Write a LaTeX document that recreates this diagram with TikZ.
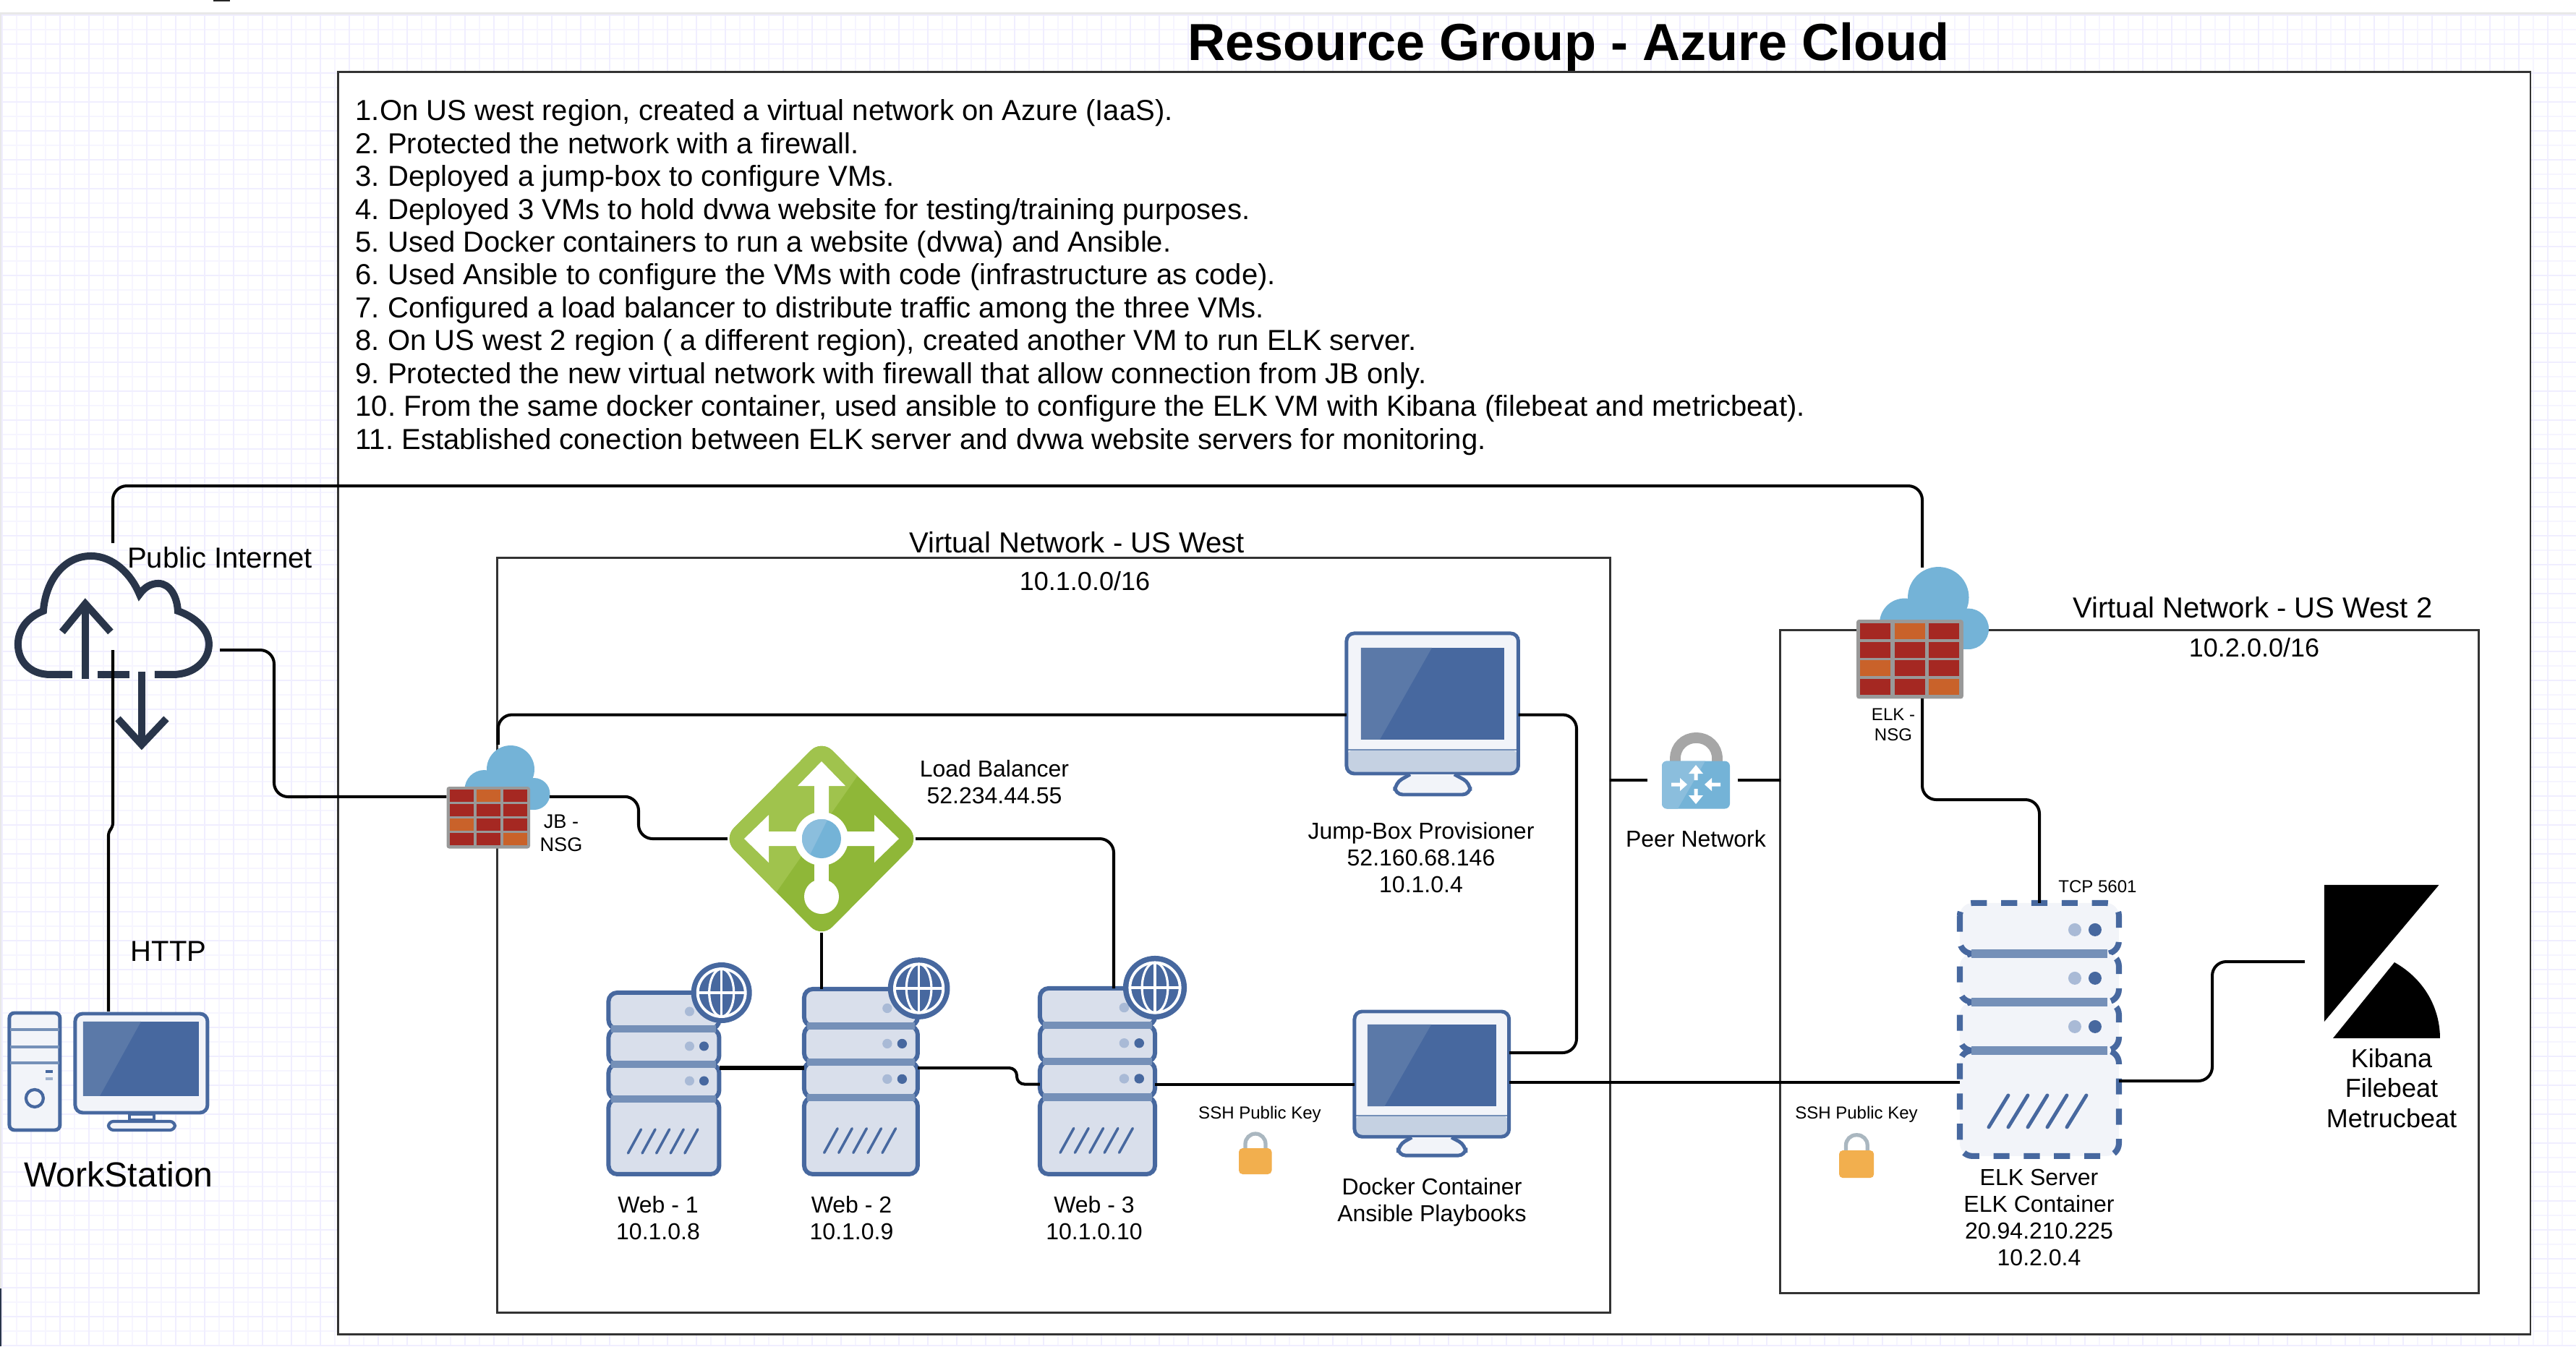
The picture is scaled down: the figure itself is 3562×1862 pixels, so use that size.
\documentclass[tikz,border=0pt]{standalone}
\usepackage{fontspec}
\setmainfont{Liberation Sans}
\definecolor{gridminor}{HTML}{F6F5FF}
\definecolor{gridmajor}{HTML}{F0EEFF}
\definecolor{iconblue}{HTML}{47689F}
\definecolor{iconlight}{HTML}{5B79A8}
\definecolor{iconbar}{HTML}{7590B8}
\definecolor{iconfill}{HTML}{D9DFEB}
\definecolor{iconpale}{HTML}{F2F4F9}
\definecolor{iconchin}{HTML}{C5D1E2}
\definecolor{icondot}{HTML}{A9BAD6}
\definecolor{cloudblue}{HTML}{74B3D7}
\definecolor{cloudpale}{HTML}{8BBEDD}
\definecolor{brickred}{HTML}{A52822}
\definecolor{brickorange}{HTML}{C9622A}
\definecolor{lbgreen}{HTML}{8FB738}
\definecolor{lbpale}{HTML}{A0C34D}
\definecolor{lockbody}{HTML}{F2AF4E}
\definecolor{lockbar}{HTML}{AAB7C0}
\definecolor{netdark}{HTML}{29354A}
\definecolor{zoneline}{HTML}{333333}
\begin{document}
\begin{tikzpicture}[x=0.01cm,y=-0.01cm]

\tikzstyle{port}=[inner sep=0pt,outer sep=0pt]
\tikzstyle{zone}=[inner sep=0pt,outer sep=0pt,draw=zoneline,line width=0.8pt]
\tikzstyle{wire}=[draw=black,line width=1.15pt,rounded corners=5.5pt]
\tikzstyle{lblmain}=[inner sep=0pt,align=center,font=\fontsize{9.1}{10.53}\selectfont]
\tikzstyle{lblbig}=[inner sep=0pt,align=center,font=\fontsize{11.38}{12.92}\selectfont\frenchspacing]
\tikzstyle{lblnet}=[inner sep=0pt,align=center,font=\fontsize{10.24}{11.7}\selectfont]
\tikzstyle{lblsmall}=[inner sep=0pt,align=center,font=\fontsize{6.83}{7.97}\selectfont]
\tikzstyle{slash}=[draw=iconblue,line width=1pt,line cap=round]

\tikzset{
serverpic/.pic={
  \foreach \sa/\sb in {0/50,50/99,99/147,147/251}
    \draw[draw=iconblue,fill=iconfill,line width=1.7pt,rounded corners=3.4pt] (0,\sa) rectangle (153,\sb);
  \foreach \sa in {50,99,147}
    \fill[iconbar] (4,\sa-5) rectangle (149,\sa+5);
  \foreach \sa in {26,74,122} {
    \fill[icondot] (112,\sa) circle (6.5);
    \fill[iconblue] (132,\sa) circle (6.5);
  }
  \foreach \sa in {0,1,2,3,4}
    \draw[slash] (27+\sa*19.6,222) -- (45+\sa*19.6,189);
},
globepic/.pic={
  \fill[iconblue] (0,0) circle (42);
  \draw[white,line width=1.1pt] (0,0) circle (33);
  \draw[white,line width=0.9pt] (0,0) ellipse (17 and 33);
  \draw[white,line width=0.9pt] (0,-33) -- (0,33);
  \draw[white,line width=0.9pt] (-33,0) -- (33,0);
},
elkserverpic/.pic={
  \foreach \sa/\sb in {0/70,70/137,137/204,204/350}
    \draw[fill=iconpale,draw=iconblue,line width=2.3pt,rounded corners=5pt,dash pattern=on 6.3pt off 5.6pt] (0,\sa) rectangle (220,\sb);
  \foreach \sa in {70,137,204}
    \fill[iconbar] (16,\sa-6) rectangle (204,\sa+6);
  \foreach \sa in {37,104,171} {
    \fill[icondot] (159,\sa) circle (9);
    \fill[iconblue] (187,\sa) circle (9);
  }
  \foreach \sa in {0,1,2,3,4}
    \draw[draw=iconblue,line width=1.4pt,line cap=round] (40+\sa*27,310) -- (67+\sa*27,266);
},
monitorpic/.pic={
  \fill[iconpale,rounded corners=3pt] (0,0) rectangle (237.5,194);
  \fill[iconchin,rounded corners=3pt] (0,161) rectangle (237.5,194);
  \draw[iconbar,line width=0.6pt] (2,161) -- (235,161);
  \fill[iconblue] (20,20) rectangle (218,147);
  \fill[iconlight] (20,20) -- (118,20) -- (46,147) -- (20,147) -- cycle;
  \draw[iconblue,line width=1.4pt,rounded corners=3pt] (0,0) rectangle (237.5,194);
  \draw[draw=iconblue,fill=iconpale,line width=1.4pt,rounded corners=3pt] (88,195) -- (67,207) -- (67,223) -- (171,223) -- (171,207) -- (149,195);
},
towerpic/.pic={
  \draw[draw=iconblue,fill=iconpale,line width=1.4pt,rounded corners=2pt] (2,2) rectangle (72,164);
  \foreach \sa in {25,49,71}
    \draw[iconbar,line width=1.2pt] (3,\sa) -- (71,\sa);
  \fill[iconblue] (52,81) rectangle (62,85);
  \fill[iconbar!70] (52,91) rectangle (62,95);
  \draw[iconblue,line width=1.2pt] (37,120) circle (12);
  \draw[draw=iconblue,fill=iconpale,line width=1.4pt,rounded corners=3pt] (93,3) rectangle (276,140);
  \fill[iconblue] (104,14) rectangle (264,117);
  \fill[iconlight] (104,14) -- (184,14) -- (127,117) -- (104,117) -- cycle;
  \draw[draw=iconblue,fill=iconpale,line width=1.2pt] (168,142) rectangle (202,150);
  \draw[draw=iconblue,fill=iconpale,line width=1.2pt,rounded corners=2pt] (139,152) rectangle (231,164);
},
firewallpic/.pic={
  \fill[cloudblue] (88.5,-24) circle (33);
  \fill[cloudblue] (52,4) circle (27);
  \fill[cloudblue] (121,10) circle (22);
  \fill[cloudblue] (52,-6) rectangle (121,32);
  \fill[black!40,rounded corners=1pt] (0,0) rectangle (115.5,85.5);
  \foreach \bx/\by/\bc in {0/0/brickred,1/0/brickorange,2/0/brickred,0/1/brickred,1/1/brickred,2/1/brickred,0/2/brickorange,1/2/brickred,2/2/brickred,0/3/brickred,1/3/brickred,2/3/brickorange}
    \fill[\bc] (4+\bx*37,4+\by*20) rectangle ++(33,17);
},
lbpic/.pic={
  \begin{scope}
    \clip[rounded corners=6pt] (-136,0) -- (0,-137) -- (136,0) -- (0,137) -- cycle;
    \fill[lbgreen] (-150,-150) rectangle (150,150);
    \fill[lbpale] (90,-145) -- (-100,128) -- (-200,128) -- (-200,-145) -- cycle;
  \end{scope}
  \fill[white] (-10,0) -- (-10,-73) -- (-33,-73) -- (0,-107) -- (33,-73) -- (10,-73) -- (10,0) -- cycle;
  \fill[white] (0,-10) -- (-73,-10) -- (-73,-33) -- (-107,0) -- (-73,33) -- (-73,10) -- (0,10) -- cycle;
  \fill[white] (0,-10) -- (73,-10) -- (73,-33) -- (107,0) -- (73,33) -- (73,10) -- (0,10) -- cycle;
  \fill[white] (-10,0) rectangle (10,80);
  \fill[white] (0,80) circle (24);
  \fill[white] (0,0) circle (37);
  \fill[cloudblue] (0,0) circle (27);
  \begin{scope}
    \clip (0,0) circle (27);
    \fill[cloudpale] (10,-30) -- (-20,30) -- (-40,30) -- (-40,-30) -- cycle;
  \end{scope}
},
lockpic/.pic={
  \draw[lockbar,line width=1.5pt,rounded corners=4pt] (9,3) -- (9,-20) -- (37,-20) -- (37,3);
  \fill[lockbody,rounded corners=1.5pt] (0,0) rectangle (45.5,36);
},
peerpic/.pic={
  \draw[black!35,line width=4.2pt,rounded corners=8pt] (18.5,5) -- (18.5,-32) -- (76.5,-32) -- (76.5,5);
  \fill[cloudblue,rounded corners=2pt] (0,0) rectangle (94,66);
  \begin{scope}
    \clip[rounded corners=2pt] (0,0) rectangle (94,66);
    \fill[cloudpale] (0,0) -- (60,0) -- (22,66) -- (0,66) -- cycle;
  \end{scope}
  \begin{scope}[shift={(47,32.5)}]
    \foreach \a in {0,180} {
      \fill[white,rotate=\a] (-2.5,-6) -- (-2.5,-15) -- (-10,-15) -- (0,-27) -- (10,-15) -- (2.5,-15) -- (2.5,-6) -- cycle;
      \fill[white,rotate=\a] (-34,-2.5) -- (-22,-2.5) -- (-22,-9) -- (-12,0) -- (-22,9) -- (-22,2.5) -- (-34,2.5) -- cycle;
    }
  \end{scope}
},
internetpic/.pic={
  \draw[netdark,line width=2.85pt] (83,168) -- (53,168) .. controls (25,168) and (8,150) .. (8,126) .. controls (8,105) and (22,88) .. (43,80) .. controls (46,40) and (70,4) .. (109,4) .. controls (140,4) and (165,30) .. (176,57) .. controls (183,47) and (192,42) .. (202,42) .. controls (218,42) and (228,60) .. (229,80) .. controls (252,88) and (272,105) .. (272,126) .. controls (272,150) and (250,168) .. (222,168) -- (197,168);
  \draw[netdark,line width=2.85pt] (118,168) -- (162,168);
  \draw[netdark,line width=2.85pt] (101,174) -- (101,72);
  \draw[netdark,line width=2.85pt] (69,109) -- (101,70) -- (136,109);
  \draw[netdark,line width=2.85pt] (179,164) -- (179,263);
  \draw[netdark,line width=2.85pt] (146,229) -- (179,265) -- (213,229);
},
kibanapic/.pic={
  \fill[black] (27,0) -- (185.5,0) -- (27,189) -- cycle;
  \fill[black] (39,212) -- (187,212) .. controls (187,170) and (165,130) .. (124,107) -- cycle;
}
}

\useasboundingbox (0,0) rectangle (3562,1862);

% sheet
\foreach \gx in {3,23,...,3562}
  \draw[gridminor,line width=0.35pt] (\gx,20) -- (\gx,1862);
\foreach \gy in {21,41,...,1862}
  \draw[gridminor,line width=0.35pt] (0,\gy) -- (3562,\gy);
\foreach \gx in {3,43,...,3562}
  \draw[gridmajor,line width=0.6pt] (\gx,20) -- (\gx,1862);
\foreach \gy in {21,61,...,1862}
  \draw[gridmajor,line width=0.6pt] (0,\gy) -- (3562,\gy);
\fill[black!9] (0,17) rectangle (3562,20);
\fill[black!9] (0,17) rectangle (2,1782);
\fill[netdark] (0,1782) rectangle (2,1862);
\fill[black!85] (295,0) rectangle (318,2);

% zones
\node[zone,fill=white,minimum width=303mm,minimum height=174.5mm] (Group) at (1983,972.5) {};
\node[zone,minimum width=153.8mm,minimum height=104.3mm] (VNetWest) at (1457,1293.5) {};
\node[zone,minimum width=96.5mm,minimum height=91.6mm] (VNetWest2) at (2944.5,1330) {};

% icons
\node[port,minimum width=27.8mm,minimum height=17.4mm] (Internet) at (156,852) {};
\pic at (Internet.north west) {internetpic};
\coordinate (InternetTop) at (156,751);
\coordinate (InternetIn) at (156,899);
\coordinate (InternetOut) at (304,899);

\node[port,minimum width=27.8mm,minimum height=16.6mm] (WorkStation) at (150,1482) {};
\pic at (WorkStation.north west) {towerpic};

\node[port,minimum width=14.25mm,minimum height=14.35mm] (JBNSG) at (688.75,1101.75) {};
\pic at (617.5,1088) {firewallpic};
\node[port,minimum width=18.2mm,minimum height=18.1mm] (ELKNSG) at (2658,875.5) {};
\pic[scale=1.28] at (2567,857) {firewallpic};

\node[port,minimum width=26mm,minimum height=26mm] (LB) at (1136,1160) {};
\pic at (LB.center) {lbpic};

\node[port,minimum width=15.3mm,minimum height=25.1mm] (Web1) at (918,1498.5) {};
\pic at (Web1.north west) {serverpic};
\pic at (997.7,1373) {globepic};
\node[port,minimum width=15.7mm,minimum height=25.6mm] (Web2) at (1190.5,1496) {};
\pic[xscale=1.026,yscale=1.02] at (Web2.north west) {serverpic};
\pic[scale=1.02] at (1270.6,1367) {globepic};
\node[port,minimum width=15.9mm,minimum height=25.7mm] (Web3) at (1517.5,1495.5) {};
\pic[xscale=1.04,yscale=1.024] at (Web3.north west) {serverpic};
\pic[scale=1.05] at (1597,1366) {globepic};
\coordinate (Web2Top) at (1136,1368);
\coordinate (Web3Top) at (1540,1367);

\node[port,minimum width=23.75mm,minimum height=22.5mm] (JumpBox) at (1980.75,988.5) {};
\pic at (JumpBox.north west) {monitorpic};
\node[port,minimum width=21.4mm,minimum height=20.1mm] (Docker) at (1980,1499.5) {};
\pic[xscale=0.9,yscale=0.893] at (Docker.north west) {monitorpic};

\node[port,minimum width=12.45mm,minimum height=13.2mm] (Peer) at (2340.25,1079) {};
\pic at (2298,1052.5) {peerpic};

\node[port,minimum width=22mm,minimum height=35mm] (ELKServer) at (2820,1424) {};
\pic at (ELKServer.north west) {elkserverpic};
\node[port,minimum width=18.7mm,minimum height=21.2mm] (Kibana) at (3280.5,1330) {};
\pic at (Kibana.north west) {kibanapic};

\node[port,minimum width=4.55mm,minimum height=3.6mm] (LockWeb) at (1735.75,1606) {};
\pic at (LockWeb.north west) {lockpic};
\node[port,minimum width=4.8mm,minimum height=3.8mm] (LockELK) at (2567,1610) {};
\pic[scale=1.06] at (LockELK.north west) {lockpic};

% connectors
\draw[wire] (InternetTop) |- (ELKNSG.north |- 0,672) -- (ELKNSG.north);
\draw[wire,rounded corners=1.5pt] (InternetIn) -- (156,1144) -- (150,1150) -- (WorkStation.north);
\draw[wire] (InternetOut) -| (379,1102) -- (JBNSG.west);
\draw[wire] (JBNSG.east) -| (883,1160) -- (LB.west);
\draw[wire] (JBNSG.north) |- (JumpBox.west);
\draw[wire] (JumpBox.east) -| (2180,1456) -- (Docker.east |- 0,1456);
\draw[wire] (LB.east) -| (Web3Top);
\draw[wire] (LB.south) -- (Web2Top);
\draw[wire,line width=1.7pt] (Web1.east |- 0,1477) -- (Web2.west |- 0,1477);
\draw[wire,rounded corners=3pt] (Web2.east |- 0,1477) -| (1406,1499.5) -- (Web3.west |- Docker.west);
\draw[wire] (Web3.east |- Docker.west) -- (Docker.west);
\draw[wire] (Docker.east |- 0,1497) -- (ELKServer.west |- 0,1497);
\draw[wire] (VNetWest.east |- Peer.west) -- (Peer.west);
\draw[wire] (Peer.east) -- (VNetWest2.west |- Peer.east);
\draw[wire] (ELKNSG.south) |- (ELKServer.north |- 0,1106) -- (ELKServer.north);
\draw[wire] (ELKServer.east |- 0,1495) -| (3059,1330) -- (Kibana.west);

% labels
\node[inner sep=0pt,font=\fontsize{20.5}{24}\selectfont\bfseries] (TitleLabel) at (2169,65) {Resource Group - Azure Cloud};
\node[lblbig,anchor=west,align=left] (StepsLabel) at (491,383.5) {1.On US west region, created a virtual network on Azure (IaaS).\\
2. Protected the network with a firewall.\\
3. Deployed a jump-box to configure VMs.\\
4. Deployed 3 VMs to hold dvwa website for testing/training purposes.\\
5. Used Docker containers to run a website (dvwa) and Ansible.\\
6. Used Ansible to configure the VMs with code (infrastructure as code).\\
7. Configured a load balancer to distribute traffic among the three VMs.\\
8. On US west 2 region ( a different region), created another VM to run ELK server.\\
9. Protected the new virtual network with firewall that allow connection from JB only.\\
10. From the same docker container, used ansible to configure the ELK VM with Kibana (filebeat and metricbeat).\\
11. Established conection between ELK server and dvwa website servers for monitoring.};
\node[lblbig] (InternetLabel) at (304,771) {Public Internet};
\node[lblbig] (HttpLabel) at (233,1316) {HTTP};
\node[inner sep=0pt,font=\fontsize{13.7}{15}\selectfont] (WorkStationLabel) at (164,1624) {WorkStation};
\node[lblbig] (VNetWestLabel) at (1489,750) {Virtual Network - US West};
\node[lblnet] (VNetWestCidr) at (1500,804) {10.1.0.0/16};
\node[lblbig] (VNetWest2Label) at (3115,840) {Virtual Network - US West 2};
\node[lblnet] (VNetWest2Cidr) at (3117,896) {10.2.0.0/16};
\node[inner sep=0pt,align=center,font=\fontsize{7.7}{9.1}\selectfont] (JBNSGLabel) at (776,1152) {JB -\\NSG};
\node[lblsmall] (ELKNSGLabel) at (2618,1002) {ELK -\\NSG};
\node[lblmain] (LBLabel) at (1375,1082) {Load Balancer\\ 52.234.44.55};
\node[lblmain] (JumpBoxLabel) at (1965,1186) {Jump-Box Provisioner\\52.160.68.146\\10.1.0.4};
\node[lblmain] (DockerLabel) at (1980,1663) {Docker Container\\Ansible Playbooks};
\node[lblmain] (PeerLabel) at (2345,1160) {Peer Network};
\node[lblmain] (Web1Label) at (910,1685) {Web - 1\\10.1.0.8};
\node[lblmain] (Web2Label) at (1177.5,1685) {Web - 2\\10.1.0.9};
\node[lblmain] (Web3Label) at (1513,1685) {Web - 3\\10.1.0.10};
\node[lblsmall] (KeyWebLabel) at (1742,1541) {SSH Public Key};
\node[lblsmall] (KeyELKLabel) at (2567,1541) {SSH Public Key};
\node[lblsmall] (TcpLabel) at (2900.5,1226) {TCP 5601};
\node[lblmain] (ELKLabel) at (2819.5,1683.5) {ELK Server\\ELK Container\\20.94.210.225\\10.2.0.4};
\node[lblnet] (KibanaLabel) at (3307,1505) {Kibana\\Filebeat\\Metrucbeat};
\end{tikzpicture}
\end{document}
